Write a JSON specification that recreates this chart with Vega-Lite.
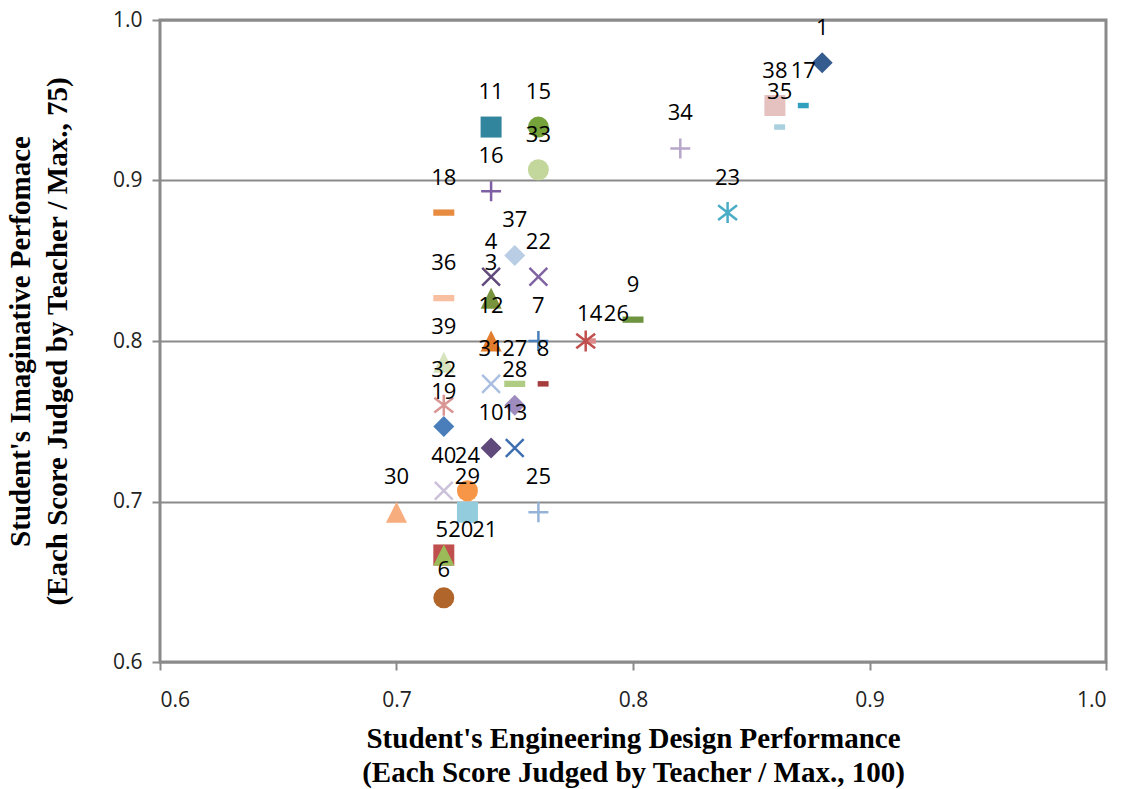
{
  "$schema": "https://vega.github.io/schema/vega-lite/v6.json",
  "autosize": {"type": "none"},
  "width": 946,
  "height": 642,
  "padding": {"left": 160, "top": 20, "right": 18, "bottom": 127},
  "background": "white",
  "config": {
    "view": {"stroke": "#8a8a8a", "strokeWidth": 3},
    "axis": {
      "labelFont": "Open Sans", "labelFontSize": 21, "labelColor": "#222222",
      "titleFont": "Liberation Serif", "titleFontSize": 29, "titleFontWeight": "bold", "titleColor": "#000000",
      "tickColor": "#8a8a8a", "tickWidth": 2, "tickSize": 8, "domain": false
    }
  },
  "data": {"values": [
    {"student": "21", "design": 0.72, "imaginative": 0.6667},
    {"student": "1", "design": 0.88, "imaginative": 0.9733},
    {"student": "3", "design": 0.74, "imaginative": 0.8267},
    {"student": "4", "design": 0.74, "imaginative": 0.84},
    {"student": "5", "design": 0.72, "imaginative": 0.6667},
    {"student": "6", "design": 0.72, "imaginative": 0.64},
    {"student": "7", "design": 0.76, "imaginative": 0.80},
    {"student": "8", "design": 0.762, "imaginative": 0.7733},
    {"student": "9", "design": 0.80, "imaginative": 0.8133},
    {"student": "10", "design": 0.74, "imaginative": 0.7333},
    {"student": "11", "design": 0.74, "imaginative": 0.9333},
    {"student": "12", "design": 0.74, "imaginative": 0.80},
    {"student": "13", "design": 0.75, "imaginative": 0.7333},
    {"student": "14", "design": 0.78, "imaginative": 0.80},
    {"student": "15", "design": 0.76, "imaginative": 0.9333},
    {"student": "16", "design": 0.74, "imaginative": 0.8933},
    {"student": "17", "design": 0.872, "imaginative": 0.9467},
    {"student": "18", "design": 0.72, "imaginative": 0.88},
    {"student": "19", "design": 0.72, "imaginative": 0.7467},
    {"student": "20", "design": 0.72, "imaginative": 0.6667},
    {"student": "22", "design": 0.76, "imaginative": 0.84},
    {"student": "23", "design": 0.84, "imaginative": 0.88},
    {"student": "24", "design": 0.73, "imaginative": 0.7067},
    {"student": "25", "design": 0.76, "imaginative": 0.6933},
    {"student": "26", "design": 0.782, "imaginative": 0.80},
    {"student": "27", "design": 0.75, "imaginative": 0.7733},
    {"student": "28", "design": 0.75, "imaginative": 0.76},
    {"student": "29", "design": 0.73, "imaginative": 0.6933},
    {"student": "30", "design": 0.70, "imaginative": 0.6933},
    {"student": "31", "design": 0.74, "imaginative": 0.7733},
    {"student": "32", "design": 0.72, "imaginative": 0.76},
    {"student": "33", "design": 0.76, "imaginative": 0.9067},
    {"student": "34", "design": 0.82, "imaginative": 0.92},
    {"student": "35", "design": 0.862, "imaginative": 0.9333},
    {"student": "36", "design": 0.72, "imaginative": 0.8267},
    {"student": "37", "design": 0.75, "imaginative": 0.8533},
    {"student": "38", "design": 0.86, "imaginative": 0.9467},
    {"student": "39", "design": 0.72, "imaginative": 0.7867},
    {"student": "40", "design": 0.72, "imaginative": 0.7067}
  ]},
  "encoding": {
    "x": {
      "field": "design", "type": "quantitative",
      "scale": {"domain": [0.6, 1.0], "nice": false, "zero": false},
      "axis": {
        "values": [0.6, 0.7, 0.8, 0.9, 1.0], "format": ".1f", "grid": false,
        "labelPadding": 19, "titlePadding": 14, "titleLineHeight": 34,
        "title": ["Student's Engineering Design Performance", "(Each Score Judged by Teacher / Max., 100)"]
      }
    },
    "y": {
      "field": "imaginative", "type": "quantitative",
      "scale": {"domain": [0.6, 1.0], "nice": false, "zero": false},
      "axis": {
        "values": [0.6, 0.7, 0.8, 0.9, 1.0], "format": ".1f", "grid": true,
        "gridColor": "#8a8a8a", "gridWidth": 2,
        "labelPadding": 10, "titlePadding": 40, "titleLineHeight": 37,
        "title": ["Student's Imaginative Perfomace", "(Each Score Judged by Teacher / Max., 75)"]
      }
    },
    "color": {"field": "student", "type": "nominal", "legend": null, "scale": {
      "domain": ["1","3","4","5","6","7","8","9","10","11","12","13","14","15","16","17","18","19","20","21","22","23","24","25","26","27","28","29","30","31","32","33","34","35","36","37","38","39","40"],
      "range": ["#355c8e","#77933c","#604a7b","#c0504d","#b0652b","#4a7ebb","#a43d3b","#6e9440","#604a7b","#31859c","#e27d2e","#3f6fb0","#c0504d","#76a23b","#7f5fa3","#31a0be","#e68b3f","#4a7ebb","#9bbb59","#9bbb59","#8064a2","#4bacc6","#f79646","#95b3d7","#da8a89","#afcb84","#9e8cbe","#93cddd","#f8ad7e","#a9bee0","#d99694","#c3d69b","#b6a6c9","#a8d0de","#f8bfa0","#b9cde5","#e5c1c0","#d7e4bd","#ccc1da"]
    }}
  },
  "layer": [
    {
      "transform": [{"filter": {"field": "student", "oneOf": ["21","1","37","28","19","10","11","38","29","5","15","33","24","6","3","12","39","30","20","18","36","9","27","17","35","8","26"]}}],
      "mark": {"type": "point", "filled": true, "opacity": 1, "size": 441},
      "encoding": {
        "shape": {"field": "student", "type": "nominal", "legend": null, "scale": {
          "domain": ["1","37","28","19","10","11","38","29","5","15","33","24","6","3","12","39","30","20","21","18","36","9","27","17","35","8","26","4","22","31","13","40","16","34","7","25","23","14","32"],
          "range": [
            "M0,-1L1,0L0,1L-1,0Z","M0,-1L1,0L0,1L-1,0Z","M0,-1L1,0L0,1L-1,0Z","M0,-1L1,0L0,1L-1,0Z","M0,-1L1,0L0,1L-1,0Z",
            "M-1,-1H1V1H-1Z","M-1,-1H1V1H-1Z","M-1,-1H1V1H-1Z","M-1,-1H1V1H-1Z",
            "circle","circle","circle","circle",
            "M0,-1L1,1H-1Z","M0,-1L1,1H-1Z","M0,-1L1,1H-1Z","M0,-1L1,1H-1Z","M0,-1L1,1H-1Z","M0,-1L1,1H-1Z",
            "M-1,-0.3H1V0.3H-1Z","M-1,-0.3H1V0.3H-1Z","M-1,-0.3H1V0.3H-1Z","M-1,-0.3H1V0.3H-1Z",
            "M-0.52,-0.26H0.52V0.26H-0.52Z","M-0.52,-0.26H0.52V0.26H-0.52Z","M-0.52,-0.26H0.52V0.26H-0.52Z","M-0.52,-0.26H0.52V0.26H-0.52Z",
            "M-0.85,-0.85L0.85,0.85M0.85,-0.85L-0.85,0.85","M-0.85,-0.85L0.85,0.85M0.85,-0.85L-0.85,0.85","M-0.85,-0.85L0.85,0.85M0.85,-0.85L-0.85,0.85","M-0.85,-0.85L0.85,0.85M0.85,-0.85L-0.85,0.85","M-0.85,-0.85L0.85,0.85M0.85,-0.85L-0.85,0.85",
            "M-0.95,0H0.95M0,-0.95V0.95","M-0.95,0H0.95M0,-0.95V0.95","M-0.95,0H0.95M0,-0.95V0.95","M-0.95,0H0.95M0,-0.95V0.95",
            "M-0.9,-0.7L0.9,0.7M0.9,-0.7L-0.9,0.7M0,-1V1","M-0.9,-0.7L0.9,0.7M0.9,-0.7L-0.9,0.7M0,-1V1","M-0.9,-0.7L0.9,0.7M0.9,-0.7L-0.9,0.7M0,-1V1"
          ]
        }}
      }
    },
    {
      "transform": [{"filter": {"field": "student", "oneOf": ["4","22","31","13","40","16","34","7","25","23","14","32"]}}],
      "mark": {"type": "point", "filled": false, "opacity": 1, "size": 441, "strokeWidth": 2.5},
      "encoding": {
        "shape": {"field": "student", "type": "nominal", "legend": null}
      }
    },
    {
      "transform": [{"filter": {"not": {"field": "student", "oneOf": ["5","20","21","6","14","26"]}}}],
      "mark": {"type": "text", "font": "Open Sans", "fontSize": 22, "color": "#000000", "dy": -35, "baseline": "middle", "align": "center"},
      "encoding": {"text": {"field": "student"}, "color": {"value": "#000000"}}
    },
    {
      "transform": [{"filter": {"field": "student", "equal": "6"}}],
      "mark": {"type": "text", "font": "Open Sans", "fontSize": 22, "color": "#000000", "dy": -28, "baseline": "middle", "align": "center"},
      "encoding": {"text": {"field": "student"}, "color": {"value": "#000000"}}
    },
    {
      "transform": [{"filter": {"field": "student", "equal": "5"}}],
      "mark": {"type": "text", "font": "Open Sans", "fontSize": 22, "color": "#000000", "dx": -2, "dy": -25, "baseline": "middle", "align": "center"},
      "encoding": {"text": {"field": "student"}, "color": {"value": "#000000"}}
    },
    {
      "transform": [{"filter": {"field": "student", "equal": "20"}}],
      "mark": {"type": "text", "font": "Open Sans", "fontSize": 22, "color": "#000000", "dx": 17, "dy": -25, "baseline": "middle", "align": "center"},
      "encoding": {"text": {"field": "student"}, "color": {"value": "#000000"}}
    },
    {
      "transform": [{"filter": {"field": "student", "equal": "21"}}],
      "mark": {"type": "text", "font": "Open Sans", "fontSize": 22, "color": "#000000", "dx": 41, "dy": -25, "baseline": "middle", "align": "center"},
      "encoding": {"text": {"field": "student"}, "color": {"value": "#000000"}}
    },
    {
      "transform": [{"filter": {"field": "student", "equal": "14"}}],
      "mark": {"type": "text", "font": "Open Sans", "fontSize": 22, "color": "#000000", "dx": 4, "dy": -27, "baseline": "middle", "align": "center"},
      "encoding": {"text": {"field": "student"}, "color": {"value": "#000000"}}
    },
    {
      "transform": [{"filter": {"field": "student", "equal": "26"}}],
      "mark": {"type": "text", "font": "Open Sans", "fontSize": 22, "color": "#000000", "dx": 26, "dy": -27, "baseline": "middle", "align": "center"},
      "encoding": {"text": {"field": "student"}, "color": {"value": "#000000"}}
    }
  ]
}
